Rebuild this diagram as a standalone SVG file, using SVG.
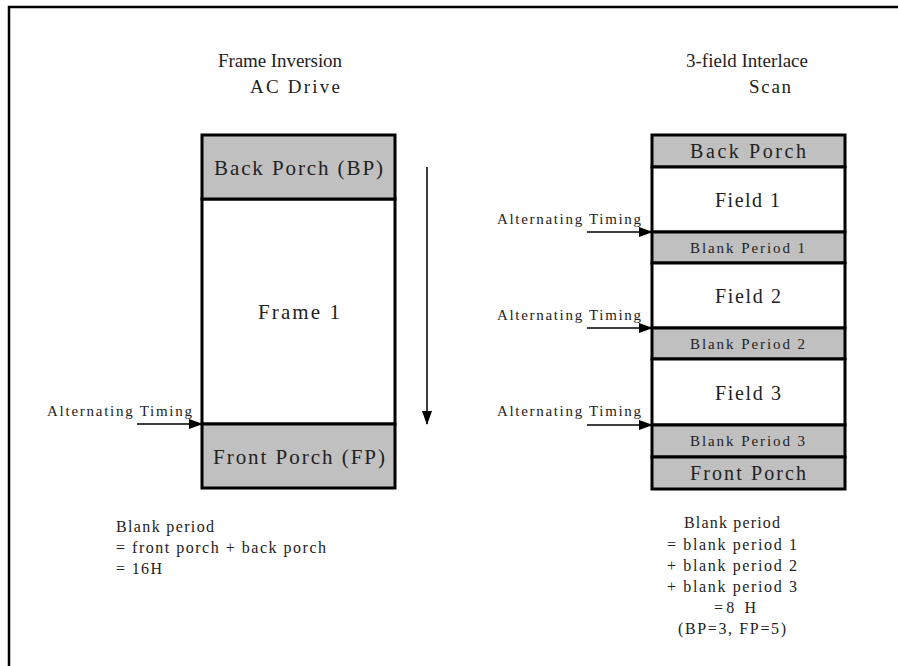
<svg xmlns="http://www.w3.org/2000/svg" width="898" height="666" viewBox="0 0 898 666">
<defs>
<marker id="ah" markerWidth="14" markerHeight="10" refX="13" refY="5" orient="auto" markerUnits="userSpaceOnUse">
<path d="M0,0 L14,5 L0,10 Z" fill="#000"/>
</marker>
<style>
text{font-family:"Liberation Serif","DejaVu Serif",serif;fill:#222;}
.g{fill:#c0c0c0;stroke:#000;stroke-width:3;}
.w{fill:#fff;stroke:#000;stroke-width:3;}
.t{font-size:19px;}
.b{font-size:21px;}
.m{font-size:20px;}
.s{font-size:15px;}
.a{font-size:15px;}
.n{font-size:16px;}
.c{stroke:#000;stroke-width:1.5;fill:none;}
</style>
</defs>
<rect x="0" y="0" width="898" height="666" fill="#fff"/>
<path d="M9,666 L9,7 L898,7" fill="none" stroke="#000" stroke-width="2.5"/>
<g id="title-left"><text class="t" x="218" y="67" textLength="124" lengthAdjust="spacing">Frame Inversion</text><text class="t" x="250" y="93" textLength="90" lengthAdjust="spacing">AC Drive</text></g>
<g id="title-right"><text class="t" x="686" y="67" textLength="122" lengthAdjust="spacing">3-field Interlace</text><text class="t" x="749" y="93" textLength="42" lengthAdjust="spacing">Scan</text></g>
<g id="left-frame1"><rect class="w" x="202" y="199" width="193" height="225"/><text class="b" x="258" y="319" textLength="82" lengthAdjust="spacing">Frame 1</text></g>
<g id="left-bp"><rect class="g" x="202" y="135" width="193" height="64"/><text class="b" x="214" y="175" textLength="169" lengthAdjust="spacing">Back Porch (BP)</text></g>
<g id="left-fp"><rect class="g" x="202" y="424" width="193" height="64"/><text class="b" x="213" y="464" textLength="172" lengthAdjust="spacing">Front Porch (FP)</text></g>
<g id="right-bp"><rect class="g" x="652" y="135" width="193" height="32"/><text class="m" x="690" y="158" textLength="116" lengthAdjust="spacing">Back Porch</text></g>
<g id="right-f1"><rect class="w" x="652" y="167" width="193" height="65"/><text class="m" x="715" y="207" textLength="65" lengthAdjust="spacing">Field 1</text></g>
<g id="right-b1"><rect class="g" x="652" y="232" width="193" height="31"/><text class="s" x="690" y="253" textLength="115" lengthAdjust="spacing">Blank Period 1</text></g>
<g id="right-f2"><rect class="w" x="652" y="263" width="193" height="65"/><text class="m" x="715" y="303" textLength="66" lengthAdjust="spacing">Field 2</text></g>
<g id="right-b2"><rect class="g" x="652" y="328" width="193" height="31"/><text class="s" x="690" y="349" textLength="115" lengthAdjust="spacing">Blank Period 2</text></g>
<g id="right-f3"><rect class="w" x="652" y="359" width="193" height="66"/><text class="m" x="715" y="400" textLength="66" lengthAdjust="spacing">Field 3</text></g>
<g id="right-b3"><rect class="g" x="652" y="425" width="193" height="32"/><text class="s" x="690" y="446" textLength="115" lengthAdjust="spacing">Blank Period 3</text></g>
<g id="right-fp"><rect class="g" x="652" y="457" width="193" height="32"/><text class="m" x="690" y="480" textLength="116" lengthAdjust="spacing">Front Porch</text></g>
<g id="labels">
<text class="a" x="47" y="416" textLength="145" lengthAdjust="spacing">Alternating Timing</text>
<text class="a" x="497" y="224" textLength="144" lengthAdjust="spacing">Alternating Timing</text>
<text class="a" x="497" y="320" textLength="144" lengthAdjust="spacing">Alternating Timing</text>
<text class="a" x="497" y="416" textLength="144" lengthAdjust="spacing">Alternating Timing</text>
</g>
<g id="connectors">
<line class="c" x1="137" y1="424" x2="202" y2="424" marker-end="url(#ah)"/>
<line class="c" x1="587" y1="232" x2="652" y2="232" marker-end="url(#ah)"/>
<line class="c" x1="587" y1="328" x2="652" y2="328" marker-end="url(#ah)"/>
<line class="c" x1="587" y1="425" x2="652" y2="425" marker-end="url(#ah)"/>
<line class="c" x1="427" y1="167" x2="427" y2="424" marker-end="url(#ah)"/>
</g>
<g id="note-left">
<text class="n" x="116" y="532" textLength="98" lengthAdjust="spacing">Blank period</text>
<text class="n" x="116" y="553" textLength="210" lengthAdjust="spacing">= front porch + back porch</text>
<text class="n" x="116" y="574" textLength="46" lengthAdjust="spacing">= 16H</text>
</g>
<g id="note-right">
<text class="n" x="684" y="528" textLength="96" lengthAdjust="spacing">Blank period</text>
<text class="n" x="667" y="550" textLength="130" lengthAdjust="spacing">= blank period 1</text>
<text class="n" x="667" y="571" textLength="130" lengthAdjust="spacing">+ blank period 2</text>
<text class="n" x="667" y="592" textLength="130" lengthAdjust="spacing">+ blank period 3</text>
<text class="n" x="714" y="613" textLength="42" lengthAdjust="spacing">=8 H</text>
<text class="n" x="678" y="634" textLength="108" lengthAdjust="spacing">(BP=3, FP=5)</text>
</g>
</svg>
